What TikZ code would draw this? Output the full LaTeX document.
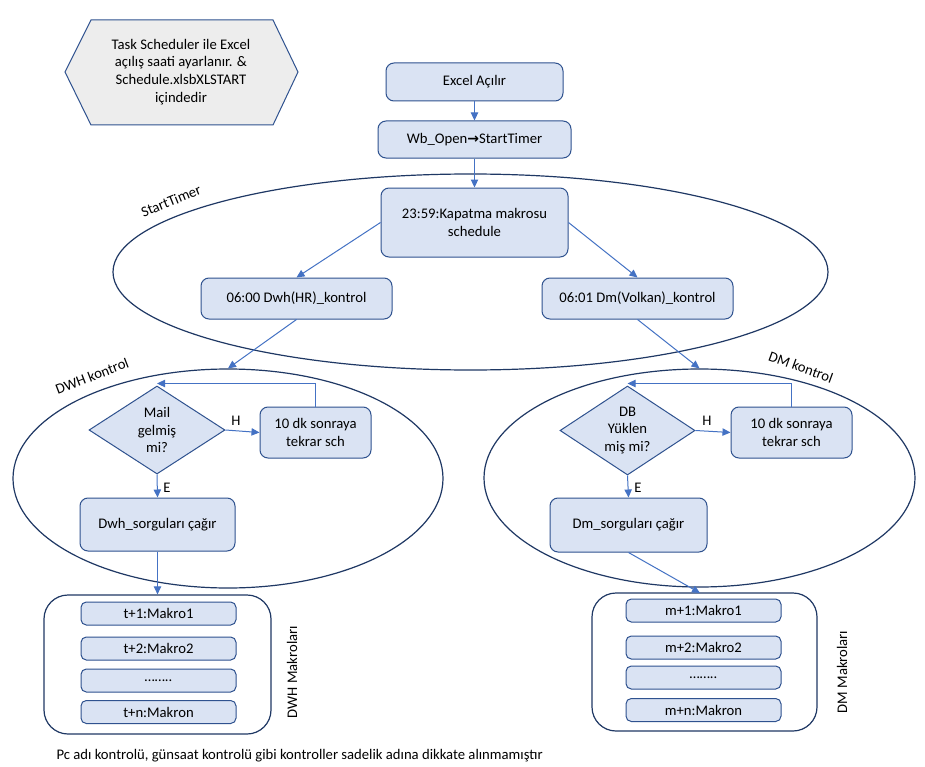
\documentclass[tikz,border=0pt]{standalone}
\usepackage{fontspec}
\setmainfont{Carlito}
\newfontfamily\djv{DejaVu Sans}
\usetikzlibrary{arrows.meta,shapes.geometric,calc}
\definecolor{boxfill}{HTML}{DAE3F3}
\definecolor{boxline}{HTML}{2F528F}
\definecolor{arrowc}{HTML}{4472C4}
\definecolor{ellc}{HTML}{1F3864}
\definecolor{hexfill}{HTML}{EDEDED}
\def\pxu{0.75pt}
\begin{document}
\begin{tikzpicture}[x=0.75pt,y=-0.75pt,
  every node/.style={font=\fontsize{11pt}{13.4pt}\selectfont},
  box/.style={draw=boxline, fill=boxfill, line width=0.75pt, rounded corners=6pt, align=center, inner sep=1pt},
  dia/.style={diamond, draw=boxline, fill=boxfill, line width=0.75pt, align=center, inner sep=0pt, aspect=1.55},
  ell/.style={ellipse, draw=ellc, line width=0.9pt, inner sep=0pt},
  cont/.style={draw=ellc, line width=0.9pt, rounded corners=18pt, inner sep=0pt},
  arr/.style={draw=arrowc, line width=0.75pt, -{Triangle[length=6pt,width=5.5pt]}},
  lbl/.style={inner sep=1pt, align=center}]
\useasboundingbox (0,0) rectangle (925,767);
\fill[white] (0,0) rectangle (925,767);

% hexagon
\draw[draw=boxline, fill=hexfill, line width=0.75pt] (65,72) -- (91,20) -- (273,20) -- (298,72) -- (273,125) -- (91,125) -- cycle;
\node[lbl] (hex) at (181,72) {Task Scheduler ile Excel\\açılış saati ayarlanır. \&\\Schedule.xlsbXLSTART\\içindedir};

% containers (ellipses)
\node[ell, minimum width=715*\pxu, minimum height=196*\pxu] (stE) at (470.5,272) {};
\node[ell, minimum width=430*\pxu, minimum height=219*\pxu] (dwhE) at (228,478.5) {};
\node[ell, minimum width=431*\pxu, minimum height=218*\pxu] (dmE) at (699.5,478) {};

\node[lbl, rotate=22] (stL) at (171,201) {StartTimer};
\node[lbl, rotate=21] (dwhL) at (92,376) {DWH kontrol};
\node[lbl, rotate=-20] (dmL) at (801,367) {DM kontrol};

% top chain
\node[box, minimum width=177*\pxu, minimum height=38*\pxu] (excel) at (474.5,82) {Excel Açılır};
\node[box, minimum width=193*\pxu, minimum height=37*\pxu] (wb) at (474.5,139.5) {Wb\_Open{\djv\bfseries\fontsize{10.5pt}{12pt}\selectfont→}StartTimer};
\node[box, minimum width=187*\pxu, minimum height=69*\pxu] (k2359) at (474.5,222.5) {23:59:Kapatma makrosu\\schedule};
\node[box, minimum width=191*\pxu, minimum height=41*\pxu] (d0600) at (296.5,298.5) {06:00 Dwh(HR)\_kontrol};
\node[box, minimum width=191*\pxu, minimum height=41*\pxu] (d0601) at (637.5,298.5) {06:01 Dm(Volkan)\_kontrol};

\draw[arr] (excel.south) -- (wb.north);
\draw[arr] (wb.south) -- (k2359.north);
\draw[arr] (k2359.west) -- (d0600.north);
\draw[arr] (k2359.east) -- (d0601.north);
\draw[arr] (d0600.south) -- (dwhE.north);
\draw[arr] (d0601.south) -- (dmE.north);

% DWH kontrol
\node[dia, minimum width=136*\pxu, minimum height=88*\pxu] (mail) at (157,430) {Mail\\gelmiş\\mi?};
\node[box, minimum width=111*\pxu, minimum height=51*\pxu] (sch1) at (315.5,432.5) {10 dk sonraya\\tekrar sch};
\node[box, minimum width=155*\pxu, minimum height=53*\pxu] (dwhq) at (157.5,524.5) {Dwh\_sorguları çağır};
\draw[arr] (mail.east) -- (sch1.west);
\node[lbl] (h1) at (236,421) {H};
\draw[arr] (sch1.north) |- ($(mail.north)+(0,-2)$);
\draw[arr] (mail.south) -- (dwhq.north);
\node[lbl] (e1) at (167,488) {E};

% DM kontrol
\node[dia, minimum width=135*\pxu, minimum height=89*\pxu] (db) at (627.5,430.5) {DB\\Yüklen\\miş mi?};
\node[box, minimum width=121*\pxu, minimum height=51*\pxu] (sch2) at (791.5,432.5) {10 dk sonraya\\tekrar sch};
\node[box, minimum width=157*\pxu, minimum height=54*\pxu] (dmq) at (628.5,525) {Dm\_sorguları çağır};
\draw[arr] (db.east) -- (sch2.west);
\node[lbl] (h2) at (707,421) {H};
\draw[arr] (sch2.north) |- ($(db.north)+(0,-2)$);
\draw[arr] (db.south) -- (dmq.north);
\node[lbl] (e2) at (638,488) {E};

% DWH makrolari
\node[cont, minimum width=227*\pxu, minimum height=139*\pxu] (dwhc) at (157.5,664.5) {};
\node[box, rounded corners=4pt, minimum width=155*\pxu, minimum height=23*\pxu] (t1) at (158.5,613.5) {t+1:Makro1};
\node[box, rounded corners=4pt, minimum width=155*\pxu, minimum height=23*\pxu] (t2) at (158.5,648.5) {t+2:Makro2};
\node[box, rounded corners=4pt, minimum width=155*\pxu, minimum height=23*\pxu] (t3) at (158.5,680.5) {……..};
\node[box, rounded corners=4pt, minimum width=155*\pxu, minimum height=23*\pxu] (tn) at (158.5,712) {t+n:Makron};
\node[lbl, rotate=90] (dwhML) at (292,672) {DWH Makroları};
\draw[arr] (dwhq.south) -- (dwhc.north);

% DM makrolari
\node[cont, minimum width=225*\pxu, minimum height=138*\pxu] (dmc) at (704.5,662) {};
\node[box, rounded corners=4pt, minimum width=155*\pxu, minimum height=23*\pxu] (m1) at (703.5,610.5) {m+1:Makro1};
\node[box, rounded corners=4pt, minimum width=155*\pxu, minimum height=23*\pxu] (m2) at (703.5,647.5) {m+2:Makro2};
\node[box, rounded corners=4pt, minimum width=155*\pxu, minimum height=23*\pxu] (m3) at (703.5,677.5) {……..};
\node[box, rounded corners=4pt, minimum width=155*\pxu, minimum height=23*\pxu] (mn) at (703.5,710) {m+n:Makron};
\node[lbl, rotate=90] (dmML) at (842,672) {DM Makroları};
\coordinate (dmcin) at (700,593);
\draw[arr] (dmq.south) -- (dmcin);

% footer
\node[lbl, anchor=west] (foot) at (55,756) {Pc adı kontrolü, günsaat kontrolü gibi kontroller sadelik adına dikkate alınmamıştır};
\end{tikzpicture}
\end{document}
